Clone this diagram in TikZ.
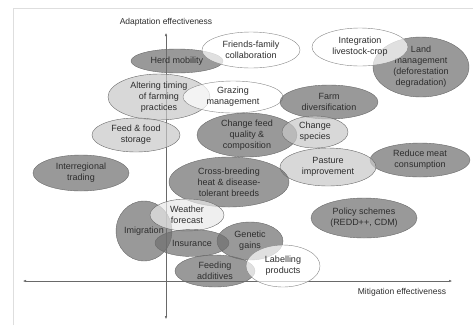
\documentclass[tikz,border=0pt]{standalone}
\usepackage{fontspec}
\setmainfont{Liberation Sans}
\usepackage{xcolor}
\definecolor{ColDark}{RGB}{110,110,110}
\definecolor{ColLight}{RGB}{200,200,200}
\definecolor{ColPale}{RGB}{232,232,232}
\definecolor{ColLine}{RGB}{105,105,105}
\definecolor{ColText}{RGB}{45,45,45}
\definecolor{ColFrame}{RGB}{222,222,222}
\usepackage{tikz}
\usetikzlibrary{shapes}
\usetikzlibrary{arrows.meta}
\tikzstyle{Blob}=[ellipse,draw=ColLine,fill opacity=.7,text opacity=1,
inner sep=0pt,align=center,text=ColText,font=\fontsize{9}{11}\selectfont]
\tikzstyle{DarkNode}=[Blob,fill=ColDark]
\tikzstyle{LightNode}=[Blob,fill=ColLight]
\tikzstyle{PaleNode}=[Blob,fill=ColPale]
\tikzstyle{WhiteNode}=[Blob,fill=white,draw=ColLine!80]
\tikzstyle{Axis}=[draw=ColLine,thin,{Latex[length=3pt,width=2.5pt]}-{Latex[length=3pt,width=2.5pt]}]
\tikzstyle{AxisLabel}=[text=ColText,font=\fontsize{8.5}{10}\selectfont]
\begin{document}
\begin{tikzpicture}[x=1pt,y=-1pt]
            \useasboundingbox(0,0)rectangle(473,325);
            \draw[ColFrame](13,325)--(13,8)--(473,8);
            % axes
            \coordinate(yT)at(166,33);
            \coordinate(yB)at(166,319);
            \coordinate(xL)at(23,281);
            \coordinate(xR)at(452,281);
            \draw[Axis](yB)--(yT);
            \draw[Axis](xL)--(xR);
            \node[AxisLabel](adapt)at(166,22){Adaptation effectiveness};
            \node[AxisLabel](mitig)at(402,292){Mitigation effectiveness};
            % top rows
            \node[DarkNode,minimum width=92,minimum height=24](herd)
                at(177,61){Herd mobility};
            \node[WhiteNode,minimum width=98,minimum height=36](friends)
                at(251,50){Friends-family\\collaboration};
            \node[DarkNode,minimum width=96,minimum height=60](land)
                at(421,67){Land\\management\\(deforestation\\degradation)};
            \node[WhiteNode,minimum width=96,minimum height=38](integ)
                at(360,47){Integration\\livestock-crop};
            \node[LightNode,minimum width=102,minimum height=46](alter)
                at(159,97){Altering timing\\of farming\\practices};
            \node[WhiteNode,minimum width=100,minimum height=32](graz)
                at(233,97){Grazing\\management};
            \node[DarkNode,minimum width=98,minimum height=34](farm)
                at(329,102){Farm\\diversification};
            \node[LightNode,minimum width=88,minimum height=34](storage)
                at(136,135){Feed \& food\\storage};
            \node[DarkNode,minimum width=100,minimum height=44](feedq)
                at(247,135){Change feed\\quality \&\\composition};
            \node[LightNode,minimum width=66,minimum height=32](species)
                at(315,132){Change\\species};
            \node[DarkNode,minimum width=100,minimum height=34](meat)
                at(420,160){Reduce meat\\consumption};
            \node[LightNode,minimum width=96,minimum height=38](pasture)
                at(328,167){Pasture\\improvement};
            % middle
            \node[DarkNode,minimum width=96,minimum height=36](trade)
                at(81,173){Interregional\\trading};
            \node[DarkNode,minimum width=120,minimum height=50](cross)
                at(229,182){Cross-breeding\\heat \& disease-\\tolerant breeds};
            \node[DarkNode,minimum width=106,minimum height=40](policy)
                at(364,218){Policy schemes\\(REDD++, CDM)};
            % bottom cluster
            \node[DarkNode,minimum width=44,minimum height=60](imig)
                at(144,231){Imigration};
            \node[PaleNode,minimum width=74,minimum height=32](weather)
                at(187,215){Weather\\forecast};
            \node[DarkNode,minimum width=74,minimum height=27](insur)
                at(192,243){Insurance};
            \node[DarkNode,minimum width=66,minimum height=38](genetic)
                at(250,241){Genetic\\gains};
            \node[DarkNode,minimum width=80,minimum height=32](feedadd)
                at(215,271){Feeding\\additives};
            \node[WhiteNode,minimum width=74,minimum height=42](label)
                at(283,266){Labelling\\products};
        \end{tikzpicture}
\end{document}
